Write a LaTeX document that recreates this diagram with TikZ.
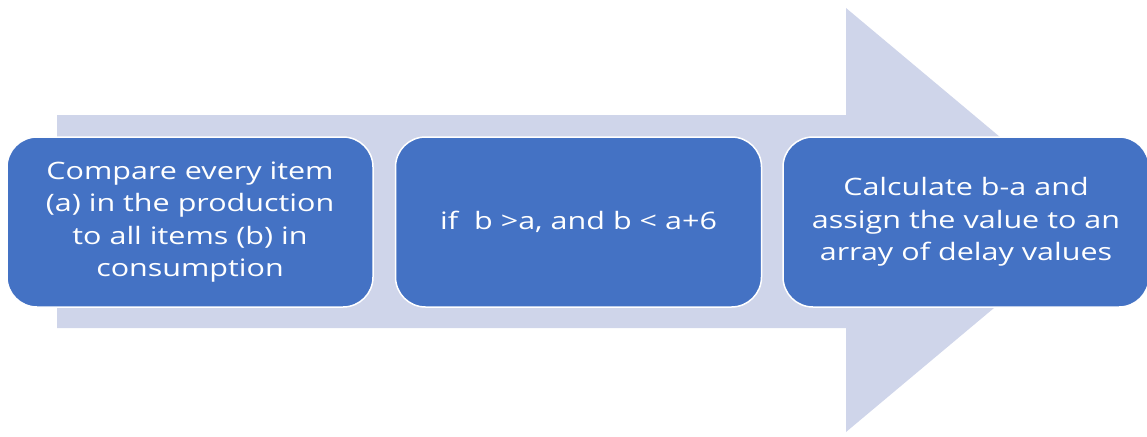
\documentclass[tikz,border=0pt]{standalone}
\usepackage{fontspec}
\setmainfont{Open Sans}[FakeStretch=1.27]
\definecolor{arrowgrey}{HTML}{CFD5EA}
\definecolor{boxblue}{HTML}{4472C4}
\tikzset{stagebox/.style={draw=white,line width=1.5pt,fill=boxblue,rounded corners=30pt,
  minimum width=366pt,minimum height=170pt,text width=355pt,align=center,text=white,
  font=\fontsize{24}{32.5}\selectfont}}

\begin{document}
\begin{tikzpicture}[x=1pt,y=-1pt]
\useasboundingbox (0,0) rectangle (1147,436);
\fill[arrowgrey] (57,115)--(846,115)--(846,8)--(1099,220)--(846,432)--(846,328)--(57,328)--cycle;
\foreach \n/\x/\t in {compare/190/{Compare every item\\(a) in the production\\to all items (b) in\\consumption},
  check/578.5/{if\ \ b >a, and b < a+6},
  calc/966/{Calculate b-a and\\assign the value to an\\array of delay values}}
  {\node[stagebox] (\n) at (\x,222) {\t};}
\end{tikzpicture}
\end{document}
